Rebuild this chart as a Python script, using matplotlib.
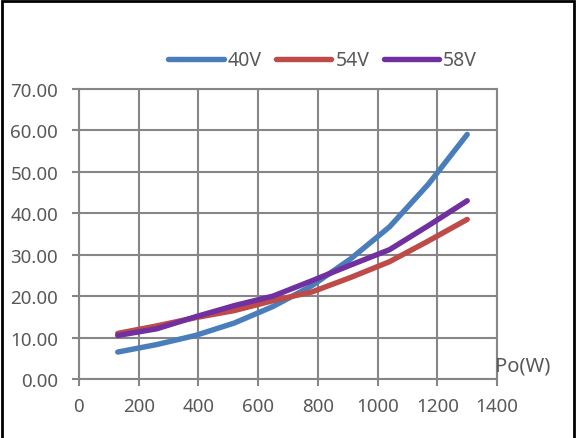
import matplotlib.pyplot as plt
from matplotlib.patches import Rectangle

plt.rcParams['font.family'] = ['Noto Sans', 'DejaVu Sans']

# 输出功率 (W)
po = [130, 260, 390, 520, 650, 780, 910, 1040, 1170, 1300]
# 各输入电压下的曲线
v40 = [6.5, 8.3, 10.5, 13.5, 17.5, 22.5, 29.0, 36.7, 47.0, 59.0]
v54 = [11.0, 12.8, 14.8, 16.5, 18.9, 21.0, 24.5, 28.3, 33.3, 38.5]
v58 = [10.5, 12.1, 15.0, 17.7, 20.0, 23.7, 27.5, 31.2, 37.0, 43.0]

series = [('40V', v40, '#4A7EBB'), ('54V', v54, '#BE4B48'), ('58V', v58, '#7030A0')]
text_color = '#595959'
grid_color = '#868686'

fig = plt.figure(figsize=(5.76, 4.39), dpi=100)
ax = fig.add_axes([0.137, 0.1344, 0.726, 0.661])

for name, vals, color in series:
    ax.plot(po, vals, color=color, linewidth=3.9, solid_capstyle='round',
            solid_joinstyle='round', label=name)

ax.set_xlim(0, 1400)
ax.set_ylim(0, 70)
ax.set_xticks(range(0, 1401, 200))
ax.set_yticks(range(0, 71, 10))
ax.set_yticklabels([f'{v:.2f}' for v in range(0, 71, 10)])
ax.grid(True, color=grid_color, linewidth=1.5)
ax.set_axisbelow(True)
for sp in ax.spines.values():
    sp.set_color(grid_color)
    sp.set_linewidth(1.5)
ax.tick_params(colors=grid_color, labelcolor=text_color, labelsize=13.5,
               length=5, width=1.5, direction='out')
ax.tick_params(axis='y', pad=10)
ax.tick_params(axis='x', pad=8)

ax.text(1393, 0.9, 'Po(W)', color=text_color, fontsize=14.5, ha='left', va='bottom')

leg = fig.legend(loc='center', bbox_to_anchor=(0.56, 0.86), ncol=3, frameon=False,
                 fontsize=14, handlelength=2.85, handletextpad=0.2, columnspacing=0.75)
for t in leg.get_texts():
    t.set_color(text_color)

# 外框
fig.add_artist(Rectangle((0.004, -0.01), 0.992, 1.005, transform=fig.transFigure,
                         fill=False, edgecolor='black', linewidth=2))

fig.savefig('out.png', dpi=100)
